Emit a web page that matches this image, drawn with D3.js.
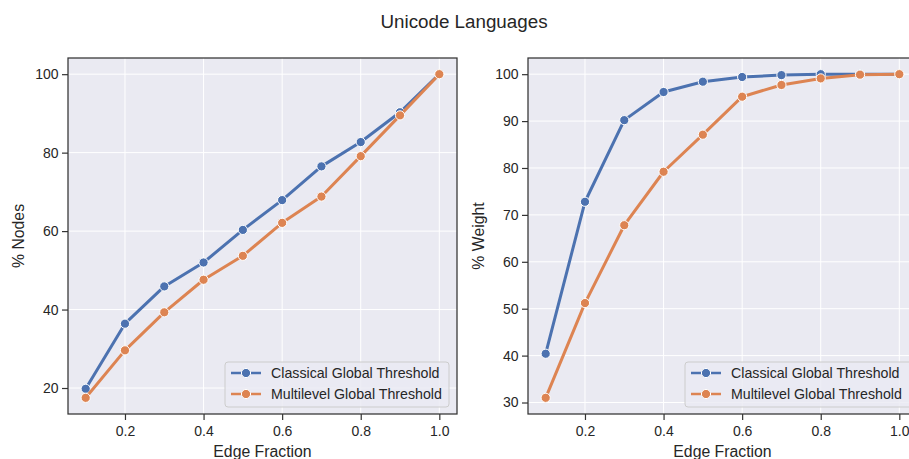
<!DOCTYPE html>
<html lang="en">
<head>
  <meta charset="utf-8">
  <title>Unicode Languages</title>
  <script src="https://cdn.jsdelivr.net/npm/d3@7"></script>
  <style>
    body { margin: 0; background: white; font-family: "Liberation Sans", Arial, sans-serif; }
    svg { display: block; }
    .tick text { font-size: 14px; fill: #262626; }
  </style>
</head>
<body>
  <svg id="chart" width="909" height="459"></svg>
  <script>
    const edgeFraction = [0.1, 0.2, 0.3, 0.4, 0.5, 0.6, 0.7, 0.8, 0.9, 1.0];
    const seriesNames = ["Classical Global Threshold", "Multilevel Global Threshold"];
    const colors = ["#4C72B0", "#DD8452"];

    // % Nodes (left panel)
    const nodesClassical  = [19.8, 36.4, 45.9, 52.0, 60.3, 67.9, 76.5, 82.7, 90.3, 100.0];
    const nodesMultilevel = [17.5, 29.6, 39.3, 47.6, 53.7, 62.1, 68.8, 79.1, 89.5, 100.0];

    // % Weight (right panel)
    const weightClassical  = [40.4, 72.8, 90.2, 96.2, 98.4, 99.4, 99.8, 100.0, 100.0, 100.0];
    const weightMultilevel = [31.0, 51.2, 67.8, 79.2, 87.1, 95.2, 97.7, 99.1, 99.9, 100.0];

    const xTicks = [0.2, 0.4, 0.6, 0.8, 1.0];
    const nodesTicks = [20, 40, 60, 80, 100];
    const weightTicks = [30, 40, 50, 60, 70, 80, 90, 100];

    const svg = d3.select("#chart");

    svg.append("text")
      .attr("x", 464).attr("y", 28)
      .attr("text-anchor", "middle")
      .style("font-size", "18.8px").style("fill", "#262626")
      .text("Unicode Languages");

    const panels = [
      { left: 68, yLabel: "% Nodes", series: [nodesClassical, nodesMultilevel], yTicks: nodesTicks, legendX: 225, legendW: 224 },
      { left: 528, yLabel: "% Weight", series: [weightClassical, weightMultilevel], yTicks: weightTicks, legendX: 685, legendW: 228 }
    ];
    const plotTop = 58, plotBottom = 414, plotW = 389;

    panels.forEach(p => {
      const g = svg.append("g");
      const all = p.series.flat();
      const ymin = d3.min(all), ymax = d3.max(all), pad = (ymax - ymin) * 0.05;
      const x = d3.scaleLinear().domain([0.1 - 0.045, 1.0 + 0.045]).range([p.left, p.left + plotW]);
      const y = d3.scaleLinear().domain([ymin - pad, ymax + pad]).range([plotBottom, plotTop]);

      g.append("rect")
        .attr("x", p.left).attr("y", plotTop)
        .attr("width", plotW).attr("height", plotBottom - plotTop)
        .attr("fill", "#EAEAF2");

      // grid
      g.selectAll(".vgrid").data(xTicks).join("line")
        .attr("x1", d => x(d)).attr("x2", d => x(d))
        .attr("y1", plotTop).attr("y2", plotBottom)
        .attr("stroke", "white").attr("stroke-width", 1);
      g.selectAll(".hgrid").data(p.yTicks).join("line")
        .attr("y1", d => y(d)).attr("y2", d => y(d))
        .attr("x1", p.left).attr("x2", p.left + plotW)
        .attr("stroke", "white").attr("stroke-width", 1);

      // axes
      const xAxis = g.append("g")
        .attr("transform", `translate(0,${plotBottom})`)
        .call(d3.axisBottom(x).tickValues(xTicks).tickFormat(d3.format(".1f")).tickSize(6).tickPadding(6));
      const yAxis = g.append("g")
        .attr("transform", `translate(${p.left},0)`)
        .call(d3.axisLeft(y).tickValues(p.yTicks).tickSize(6).tickPadding(3.5));
      [xAxis, yAxis].forEach(a => {
        a.select(".domain").remove();
        a.selectAll(".tick line").attr("stroke", "#333").attr("stroke-width", 1.2);
        a.selectAll(".tick text").style("font-family", "'Liberation Sans', Arial, sans-serif");
      });

      // lines and markers
      p.series.forEach((vals, i) => {
        const pts = edgeFraction.map((e, k) => [e, vals[k]]);
        g.append("path")
          .datum(pts)
          .attr("fill", "none")
          .attr("stroke", colors[i])
          .attr("stroke-width", 3)
          .attr("stroke-linejoin", "round")
          .attr("d", d3.line().x(d => x(d[0])).y(d => y(d[1])));
        g.selectAll(".m" + i).data(pts).join("circle")
          .attr("cx", d => x(d[0])).attr("cy", d => y(d[1]))
          .attr("r", 4.6)
          .attr("fill", colors[i])
          .attr("stroke", "white").attr("stroke-width", 1);
      });

      // frame
      g.append("rect")
        .attr("x", p.left).attr("y", plotTop)
        .attr("width", plotW).attr("height", plotBottom - plotTop)
        .attr("fill", "none").attr("stroke", "#333").attr("stroke-width", 1.25);

      // axis labels
      g.append("text")
        .attr("x", p.left + plotW / 2).attr("y", 457)
        .attr("text-anchor", "middle")
        .style("font-size", "15.8px").style("fill", "#262626")
        .text("Edge Fraction");
      g.append("text")
        .attr("transform", `translate(${p.left - 44},${(plotTop + plotBottom) / 2}) rotate(-90)`)
        .attr("text-anchor", "middle")
        .style("font-size", "15.8px").style("fill", "#262626")
        .text(p.yLabel);

      // legend
      const lg = g.append("g").attr("transform", `translate(${p.legendX},362)`);
      lg.append("rect")
        .attr("width", p.legendW).attr("height", 45).attr("rx", 3)
        .attr("fill", "#EAEAF2").attr("fill-opacity", 0.8)
        .attr("stroke", "#CCCCCC").attr("stroke-width", 1);
      seriesNames.forEach((name, i) => {
        const ry = 11 + i * 21;
        lg.append("line")
          .attr("x1", 6).attr("x2", 36).attr("y1", ry).attr("y2", ry)
          .attr("stroke", colors[i]).attr("stroke-width", 2.5);
        lg.append("circle")
          .attr("cx", 21).attr("cy", ry).attr("r", 4.6)
          .attr("fill", colors[i]).attr("stroke", "white").attr("stroke-width", 1);
        lg.append("text")
          .attr("x", 46).attr("y", ry + 5)
          .style("font-size", "14.2px").style("fill", "#262626")
          .text(name);
      });
    });
  </script>
</body>
</html>
